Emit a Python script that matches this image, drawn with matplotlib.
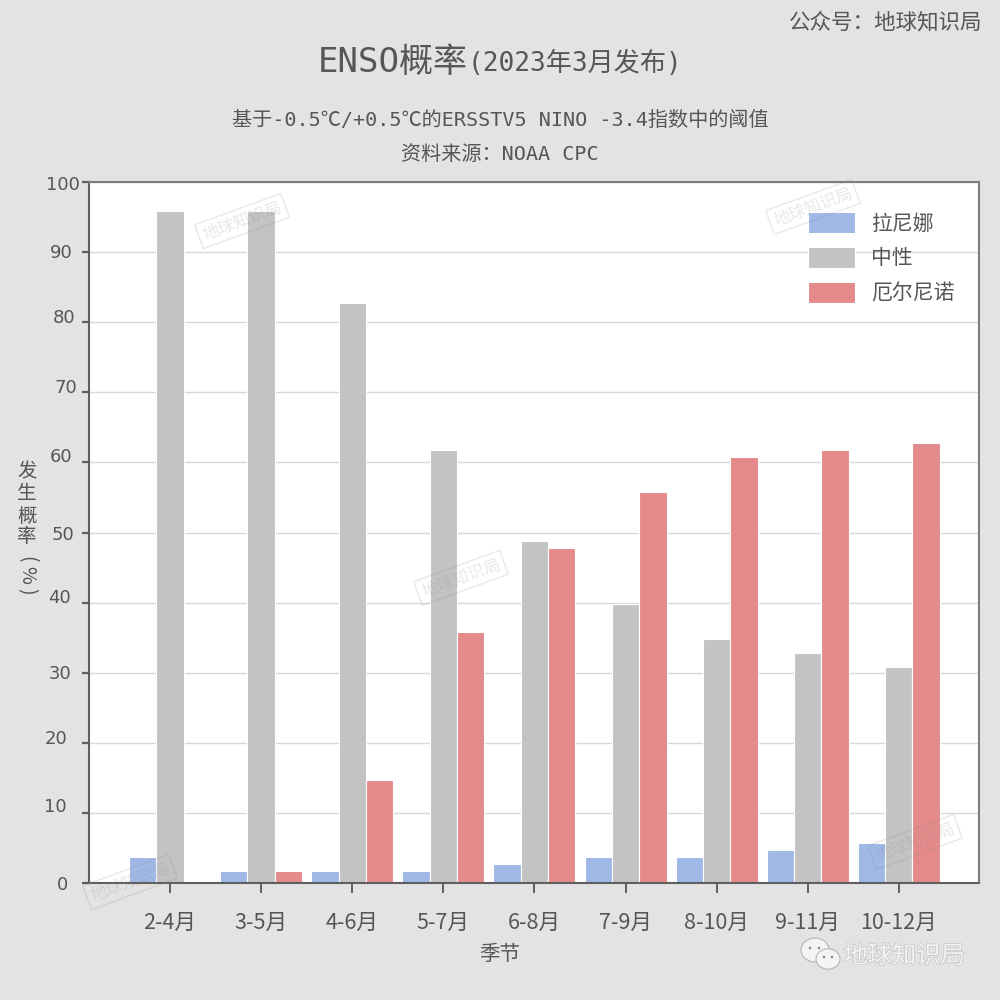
import matplotlib
matplotlib.use('Agg')
import matplotlib.pyplot as plt
import matplotlib.patches as mpatches
import matplotlib.patheffects as pe
import numpy as np

seasons = ['2-4月', '3-5月', '4-6月', '5-7月', '6-8月', '7-9月', '8-10月', '9-11月', '10-12月']
la_nina = [3.7, 1.7, 1.7, 1.7, 2.7, 3.7, 3.7, 4.7, 5.7]
neutral = [95.9, 95.9, 82.7, 61.8, 48.8, 39.8, 34.8, 32.8, 30.8]
el_nino = [0, 1.7, 14.7, 35.8, 47.8, 55.8, 60.8, 61.8, 62.8]
y_ticks = list(range(0, 101, 10))
y_label_chars = ['发', '生', '概', '率', '(', '%', ')']

# the y tick labels in the original are hand placed, so nudge each one (right edge px, dy px)
Y_LABEL_NUDGE = {0: (68, 0), 10: (67, 8), 20: (67, 6), 30: (71, 1), 40: (71, 7), 50: (74, 0),
                 60: (72, 7), 70: (77, 6), 80: (75, 6), 90: (73, 1), 100: (80, -1)}
Y_LABEL_POS = [472, 494, 516, 537, 559, 575, 591]

# watermark centres in figure pixels (x, y from top)
WATERMARKS = [(242, 221), (813, 207), (461, 578), (130, 882), (915, 842)]

BG = '#e3e3e3'
TEXT = '#565656'
SANS = ['Noto Sans CJK SC', 'DejaVu Sans']
MONO = ['DejaVu Sans Mono', 'Noto Sans CJK SC']
W = H = 1000


def px(x, y):
    return x / W, 1 - y / H


plt.rcParams['font.family'] = SANS
fig = plt.figure(figsize=(10, 10), dpi=100, facecolor=BG)
ax = fig.add_axes([89 / W, 1 - 883 / H, (979 - 89) / W, (883 - 182) / H])

x = np.arange(len(seasons))
w = 0.3
ax.bar(x - w, la_nina, w, color='#9fb8e6', edgecolor='white', linewidth=0.8, label='拉尼娜', zorder=2)
ax.bar(x, neutral, w, color='#c3c3c3', edgecolor='white', linewidth=0.8, label='中性', zorder=2)
ax.bar(x + w, el_nino, w, color='#e58a8a', edgecolor='white', linewidth=0.8, label='厄尔尼诺', zorder=2)

ax.set_xlim(-0.889, 8.88)
ax.set_ylim(0, 100)
ax.set_xticks(x)
ax.set_xticklabels(seasons, fontsize=15.5)
ax.set_yticks(y_ticks)
ax.set_yticklabels([])
ax.tick_params(axis='x', length=7, width=1.4, color='#5f5f5f', labelcolor=TEXT, pad=14)
ax.tick_params(axis='y', length=5, width=1.6, color='#5f5f5f')
ax.grid(axis='y', color='#d9d9d9', linewidth=1.0, zorder=0)
ax.set_axisbelow(True)
for name, spine in ax.spines.items():
    spine.set_linewidth(1.5)
    spine.set_color('#5f5f5f' if name in ('left', 'bottom') else '#7d7d7d')

for v in y_ticks:
    right, dy = Y_LABEL_NUDGE[v]
    ax.annotate(str(v), xy=(0, v), xycoords=('axes fraction', 'data'), xytext=(right - 89, dy),
                textcoords='offset pixels', fontsize=13, family='DejaVu Sans', color=TEXT,
                ha='right', va='center_baseline', annotation_clip=False)

leg = ax.legend(loc='upper left', bbox_to_anchor=(0.808, 0.957), frameon=False, fontsize=15,
                handlelength=2.26, handleheight=1.15, handletextpad=0.78,
                labelspacing=0.6, borderpad=0, borderaxespad=0, labelcolor=TEXT)

# titles
fig.text(*px(318, 62), 'ENSO概率', family=MONO, fontsize=24.5, color=TEXT, ha='left', va='center')
fig.text(*px(468, 64), '(2023年3月发布)', family=MONO, fontsize=18.8, color=TEXT, ha='left', va='center')
fig.text(*px(500, 120), '基于-0.5℃/+0.5℃的ERSSTV5 NINO -3.4指数中的阈值', family=MONO,
         fontsize=14.5, color=TEXT, ha='center', va='center')
fig.text(*px(500, 154), '资料来源：NOAA CPC', family=MONO, fontsize=14.5, color=TEXT, ha='center', va='center')
fig.text(*px(982, 22), '公众号：地球知识局', family=MONO, fontsize=15.5, color=TEXT, ha='right', va='center')
fig.text(*px(500, 954), '季节', fontsize=14.8, color=TEXT, ha='center', va='center')

# y label stacked one glyph at a time
for ch, y_pos in zip(y_label_chars, Y_LABEL_POS):
    fig.text(*px(27, y_pos), ch, fontsize=14, color=TEXT, ha='center', va='center',
             rotation=-90 if ch in '()%' else 0)

# faint repeated watermark
for cx, cy in WATERMARKS:
    fig.text(*px(cx, cy), '地球知识局', fontsize=12, color='#8c8c8c', alpha=0.2, rotation=20,
             ha='center', va='center', zorder=5,
             bbox=dict(boxstyle='square,pad=0.25', facecolor='none', edgecolor='#8c8c8c', alpha=0.2))

# wechat mark bottom right
for cx, cy, r, eyes in [(815, 950, 14, (-5, 4)), (828, 959, 12, (-4, 4))]:
    fig.add_artist(mpatches.Ellipse(px(cx, cy), 2 * r / W, 1.7 * r / H, facecolor='#f4f4f4',
                                    edgecolor='#b5b5b5', linewidth=0.8))
    for dx in eyes:
        fig.add_artist(mpatches.Circle(px(cx + dx, cy - 2), 1.3 / W, facecolor='#8c8c8c', edgecolor='none'))
label = fig.text(*px(904, 956), '地球知识局', fontsize=17.5, color='#f4f4f4', ha='center', va='center')
label.set_path_effects([pe.withStroke(linewidth=1, foreground='#c4c4c4')])

fig.savefig('out.png', dpi=100, facecolor=BG)
